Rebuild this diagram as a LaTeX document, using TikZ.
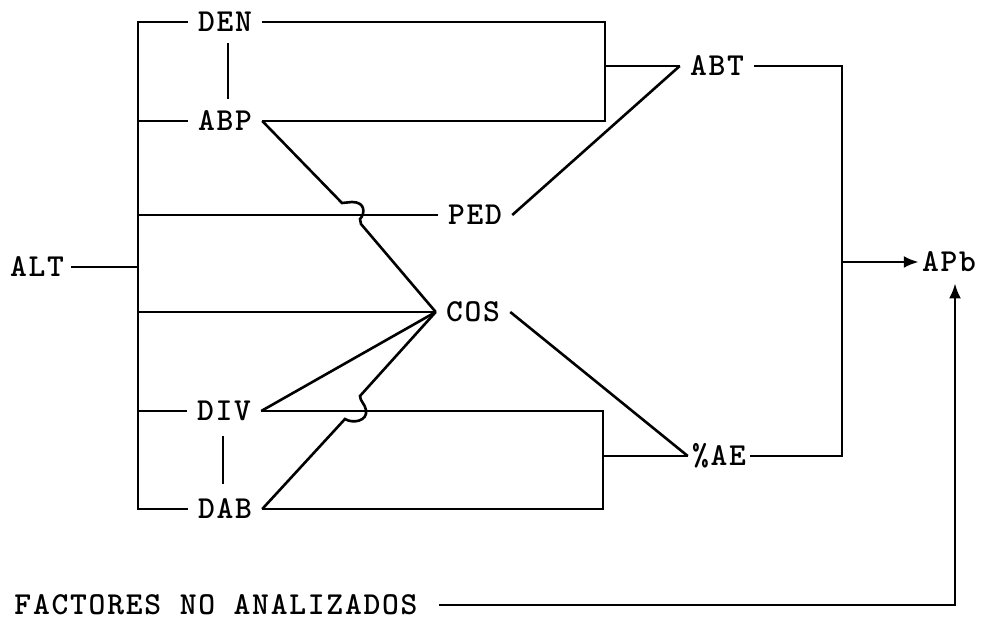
\documentclass[tikz,border=0pt]{standalone}
\usepackage{fontspec}
\setmonofont{lmmonolt10-bold}[Extension=.otf, LetterSpace=5.5]
\usetikzlibrary{arrows.meta}
\begin{document}
\begin{tikzpicture}[x=1pt,y=-1pt,line width=2.6pt,
  lbl/.style={inner ysep=0pt, inner xsep=9pt, font=\fontsize{32}{36}\selectfont\ttfamily},
  tip/.style={-{Latex[length=15pt,width=12pt]}}]
\useasboundingbox (0,0) rectangle (985,620);

% variables
\node[lbl,inner xsep=6pt] (ALT) at (37,267) {ALT};
\node[lbl] (DEN) at (225,22) {DEN};
\node[lbl] (ABP) at (225,121) {ABP};
\node[lbl] (PED) at (475,215) {PED};
\node[lbl] (COS) at (473,312) {COS};
\node[lbl] (DIV) at (224,411) {DIV};
\node[lbl] (DAB) at (225,509) {DAB};
\node[lbl] (ABT) at (717,66) {ABT};
\node[lbl,inner xsep=3pt] (AE) at (719,456) {\%AE};
\node[lbl,inner xsep=2pt] (APb) at (949,262) {APb};
\node[lbl,inner xsep=20pt] (FAC) at (216,605) {FACTORES NO ANALIZADOS};

% rails
\coordinate (bus) at (138,0);
\coordinate (topR) at (605,0);
\coordinate (botR) at (603,0);
\coordinate (rail) at (842,0);
\coordinate (up) at (955,0);

% ALT feeding the left bus
\draw (DEN.west) -- (DEN.west -| bus) -- (DAB.west -| bus) -- (DAB.west);
\foreach \n in {ABP,PED,COS,DIV} \draw (\n.west -| bus) -- (\n.west);
\draw (ALT.east) -- (ALT.east -| bus);

% ties between paired variables
\draw[shorten <=10pt, shorten >=11pt] ([xshift=3pt]DEN.south) -- ([xshift=3pt]ABP.north);
\draw[shorten <=14pt, shorten >=14pt] ([xshift=-1pt]DIV.south) -- ([xshift=-2pt]DAB.north);

% upper block
\draw (DEN.east) -- (DEN.east -| topR) -- (ABP.east -| topR) -- (ABP.east);
\draw (ABT.west -| topR) -- (ABT.west);
\draw (PED.east) -- (ABT.west);
\draw (ABP.east) -- (342,203) -- (352,202) .. controls (366,202) and (365,214) .. (360,219)
      -- (361,224) -- (COS.west);

% lower block
\draw (DIV.east) -- (COS.west);
\draw (DIV.east) -- (DIV.east -| botR) -- (DAB.east -| botR) -- (DAB.east);
\draw (AE.west -| botR) -- (AE.west);
\draw (DAB.east) -- (345,419) .. controls (353,424) and (368,421) .. (366,410)
      .. controls (365,404) and (360,401) .. (360,396) -- (COS.west);
\draw (COS.east) -- (AE.west);

% outputs to APb
\draw (ABT.east) -- (ABT.east -| rail) -- (AE.east -| rail) -- (AE.east);
\draw[tip] (APb.west -| rail) -- (APb.west);
\draw[tip, shorten >=10pt] (FAC.east) -- (FAC.east -| up) -- (up |- APb.south);
\end{tikzpicture}
\end{document}
